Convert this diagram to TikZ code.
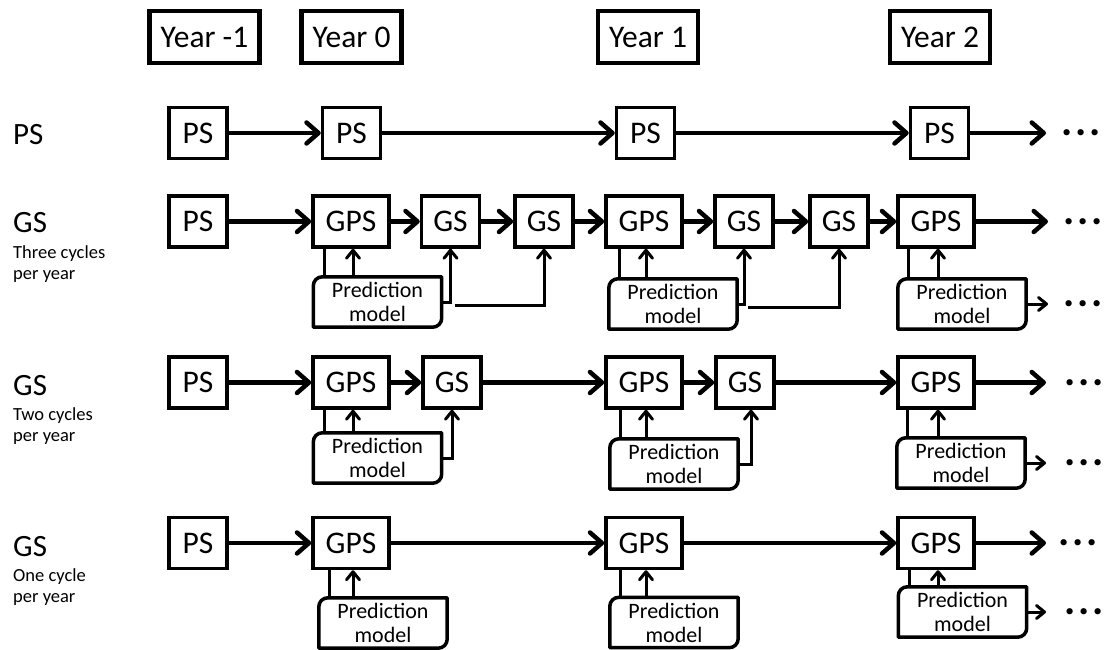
\documentclass[tikz,border=0pt]{standalone}
\usepackage{fontspec}
\setmainfont{Carlito}
\usepackage{tikz}
\usetikzlibrary{arrows.meta,calc}
\tikzset{
  stage/.style={draw,line width=3.5pt,minimum width=58pt,minimum height=51pt,inner sep=0pt,font=\fontsize{31.5}{32}\selectfont},
  widestage/.style={stage,minimum width=76pt},
  yearbox/.style={draw,line width=4.5pt,minimum height=52pt,inner xsep=11pt,inner ysep=0pt,font=\fontsize{31.5}{32}\selectfont},
  flow/.style={line width=4.5pt,-{Straight Barb[length=12pt,width=21pt,line join=round,line cap=round]}},
  link/.style={line width=3pt},
  linkto/.style={link,-{Straight Barb[length=8pt,width=13pt,line join=round,line cap=round]}},
  dots/.style={font=\fontsize{42}{42}\selectfont\bfseries,inner sep=0pt,anchor=west},
  rowlbl/.style={font=\fontsize{31}{32}\selectfont,inner sep=0pt,anchor=base west},
  sublbl/.style={font=\fontsize{18.5}{20}\selectfont,inner sep=0pt,anchor=base west}
}
\newcommand{\drawPredModel}[3]{% name, center: x,y
  \node[minimum width=128pt,minimum height=50pt,inner sep=0pt,align=center,
    font=\fontsize{22}{24}\selectfont] (#1) at (#2,#3) {Prediction\\model};
  \draw[line width=3.5pt,line join=round] (#1.south west) -- ([yshift=-9pt]#1.north west)
    arc[start angle=180,end angle=90,radius=9pt] -- (#1.north east)
    -- ([yshift=9pt]#1.south east) arc[start angle=0,end angle=-90,radius=9pt] -- cycle;
}
\newcommand{\drawFeedback}[2]{% prediction model, GPS box
  \draw[link] ([xshift=11pt]#1.north west) -- ([xshift=11pt]#1.north west |- #2.south);
  \draw[linkto] ([xshift=2pt]#1.north -| #2.south) -- ([xshift=2pt]#2.south);
}
\newcommand{\moreDots}{.\hspace{3pt}.\hspace{3pt}.}

\begin{document}
\begin{tikzpicture}[x=1pt,y=-1pt]
\useasboundingbox (0,0) rectangle (1109,650);

% Years
\node[yearbox] (yearM) at (204.5,37) {Year -1};
\node[yearbox] (yearZ) at (351.5,37) {Year 0};
\node[yearbox] (yearA) at (648,37) {Year 1};
\node[yearbox] (yearB) at (940,37) {Year 2};

% Row labels
\node[rowlbl] (lblPS) at (13,145) {PS};
\node[rowlbl] (lblThree) at (13,233) {GS};
\node[sublbl] (lblThreeA) at (13,258) {Three cycles};
\node[sublbl] (lblThreeB) at (13,279) {per year};
\node[rowlbl] (lblTwo) at (13,395) {GS};
\node[sublbl] (lblTwoA) at (13,420) {Two cycles};
\node[sublbl] (lblTwoB) at (13,441) {per year};
\node[rowlbl] (lblOne) at (13,556) {GS};
\node[sublbl] (lblOneA) at (13,581) {One cycle};
\node[sublbl] (lblOneB) at (13,602) {per year};

% PS row
\node[stage] (psM) at (198,133) {PS};
\node[stage] (psZ) at (351.5,133) {PS};
\node[stage] (psA) at (645.5,133) {PS};
\node[stage] (psB) at (939.5,133) {PS};
\coordinate (psEnd) at (1046,133);
\node[dots] (psDots) at (1061,133) {\moreDots};
\draw[flow] (psM) -- (psZ);
\draw[flow] (psZ) -- (psA);
\draw[flow] (psA) -- (psB);
\draw[flow] (psB) -- (psEnd);

% GS, three cycles
\node[stage] (threeM) at (198,221.5) {PS};
\node[widestage] (threeZ) at (351,221.5) {GPS};
\node[stage] (threeZa) at (450.5,221.5) {GS};
\node[stage] (threeZb) at (544,221.5) {GS};
\node[widestage] (threeA) at (644,221.5) {GPS};
\node[stage] (threeAa) at (744,221.5) {GS};
\node[stage] (threeAb) at (839,221.5) {GS};
\node[widestage] (threeB) at (936,221.5) {GPS};
\coordinate (threeEnd) at (1048,221.5);
\node[dots] (threeDots) at (1063,221.5) {\moreDots};
\draw[flow] (threeM) -- (threeZ);
\draw[flow] (threeZ) -- (threeZa);
\draw[flow] (threeZa) -- (threeZb);
\draw[flow] (threeZb) -- (threeA);
\draw[flow] (threeA) -- (threeAa);
\draw[flow] (threeAa) -- (threeAb);
\draw[flow] (threeAb) -- (threeB);
\draw[flow] (threeB) -- (threeEnd);

\drawPredModel{pmThreeZ}{377.5}{302}
\drawPredModel{pmThreeA}{673}{304}
\drawPredModel{pmThreeB}{962}{304}
\drawFeedback{pmThreeZ}{threeZ}
\drawFeedback{pmThreeA}{threeA}
\drawFeedback{pmThreeB}{threeB}
\draw[linkto] (pmThreeZ.east) -| (threeZa.south);
\draw[linkto] ([xshift=4pt,yshift=-3pt]pmThreeZ.east -| threeZa.south) -| (threeZb.south);
\draw[linkto] (pmThreeA.east) -| (threeAa.south);
\draw[linkto] ([xshift=4pt,yshift=-3pt]pmThreeA.east -| threeAa.south) -| (threeAb.south);
\coordinate (pmThreeEnd) at (pmThreeB.east -| threeEnd);
\node[dots] (pmThreeDots) at (pmThreeB.east -| threeDots.west) {\moreDots};
\draw[linkto] (pmThreeB.east) -- (pmThreeEnd);

% GS, two cycles
\node[stage] (twoM) at (198,382.5) {PS};
\node[widestage] (twoZ) at (351,382.5) {GPS};
\node[stage] (twoZa) at (452,382.5) {GS};
\node[widestage] (twoA) at (644,382.5) {GPS};
\node[stage] (twoAa) at (745,382.5) {GS};
\node[widestage] (twoB) at (936,382.5) {GPS};
\coordinate (twoEnd) at (1046,382.5);
\node[dots] (twoDots) at (1064,382.5) {\moreDots};
\draw[flow] (twoM) -- (twoZ);
\draw[flow] (twoZ) -- (twoZa);
\draw[flow] (twoZa) -- (twoA);
\draw[flow] (twoA) -- (twoAa);
\draw[flow] (twoAa) -- (twoB);
\draw[flow] (twoB) -- (twoEnd);

\drawPredModel{pmTwoZ}{377.5}{458}
\drawPredModel{pmTwoA}{674}{464}
\drawPredModel{pmTwoB}{961}{463}
\drawFeedback{pmTwoZ}{twoZ}
\drawFeedback{pmTwoA}{twoA}
\drawFeedback{pmTwoB}{twoB}
\draw[linkto] (pmTwoZ.east) -| (twoZa.south);
\draw[linkto] (pmTwoA.east) -| ([xshift=6pt]twoAa.south);
\coordinate (pmTwoEnd) at (pmTwoB.east -| twoEnd);
\node[dots] (pmTwoDots) at (pmTwoB.east -| twoDots.west) {\moreDots};
\draw[linkto] (pmTwoB.east) -- (pmTwoEnd);

% GS, one cycle
\node[stage] (oneM) at (198,543) {PS};
\node[widestage] (oneZ) at (351,543) {GPS};
\node[widestage] (oneA) at (644,543) {GPS};
\node[widestage] (oneB) at (936,543) {GPS};
\coordinate (oneEnd) at (1046,543);
\node[dots] (oneDots) at (1058,543) {\moreDots};
\draw[flow] (oneM) -- (oneZ);
\draw[flow] (oneZ) -- (oneA);
\draw[flow] (oneA) -- (oneB);
\draw[flow] (oneB) -- (oneEnd);

\drawPredModel{pmOneZ}{383}{623}
\drawPredModel{pmOneA}{674}{622.5}
\drawPredModel{pmOneB}{962.5}{612}
\drawFeedback{pmOneZ}{oneZ}
\drawFeedback{pmOneA}{oneA}
\drawFeedback{pmOneB}{oneB}
\coordinate (pmOneEnd) at (pmOneB.east -| oneEnd);
\node[dots] (pmOneDots) at (pmOneB.east -| twoDots.west) {\moreDots};
\draw[linkto] (pmOneB.east) -- (pmOneEnd);

\end{tikzpicture}
\end{document}
